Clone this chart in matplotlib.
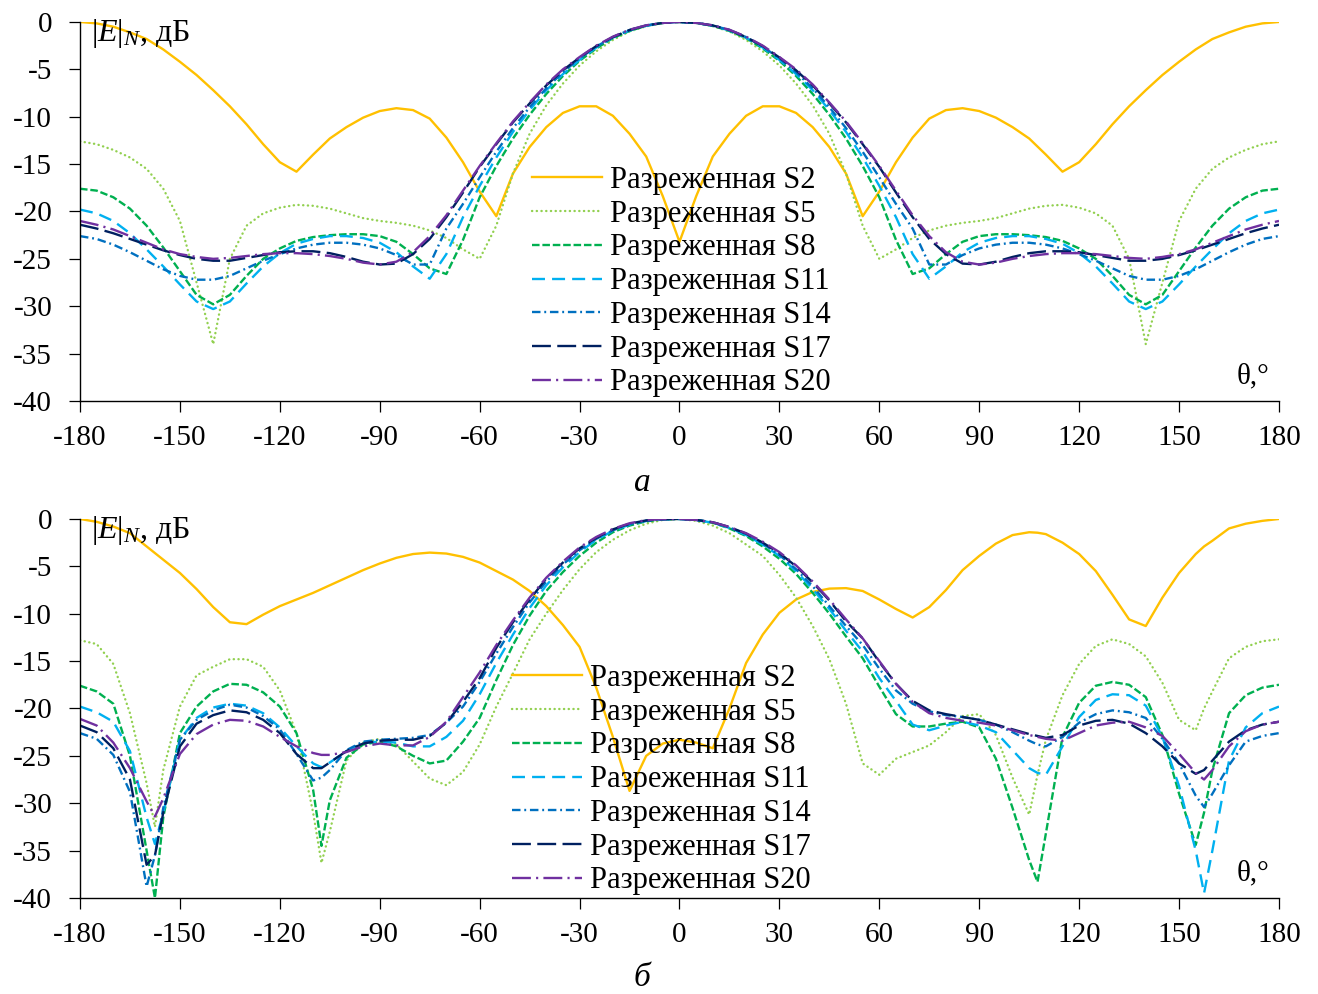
import matplotlib
matplotlib.use("Agg")
import matplotlib.pyplot as plt

# angle grids (deg)
top_theta = list(range(-180, 181, 5))
bot_theta = sorted(list(range(-180, 181, 5)) + [-157.5, -107.5, 107.5, 157.5])

labels = ["Разреженная S2", "Разреженная S5", "Разреженная S8", "Разреженная S11",
          "Разреженная S14", "Разреженная S17", "Разреженная S20"]

# ---- panel a (symmetric pattern), dB ----
top_s2 = [0, -0.15, -0.5, -1.1, -1.8, -2.9, -4.2, -5.6, -7.2, -8.9, -10.8, -12.9, -14.8,
          -15.8, -14.0, -12.3, -11.1, -10.1, -9.4, -9.1, -9.3, -10.2, -12.2, -14.8, -17.9,
          -20.5, -16.0, -13.2, -11.1, -9.6, -8.9, -8.9, -9.9, -11.8, -14.2, -18.4, -23.2,
          -18.4, -14.2, -11.8, -9.9, -8.9, -8.9, -9.6, -11.1, -13.2, -16.0, -20.5, -17.9,
          -14.8, -12.2, -10.2, -9.3, -9.1, -9.4, -10.1, -11.1, -12.3, -14.0, -15.8, -14.8,
          -12.9, -10.8, -8.9, -7.2, -5.6, -4.2, -2.9, -1.8, -1.1, -0.5, -0.15, 0]
top_s5 = [-12.6, -12.9, -13.5, -14.3, -15.5, -17.6, -21.0, -27.5, -34.0, -25.0, -21.5, -20.2,
          -19.6, -19.3, -19.4, -19.7, -20.2, -20.7, -21.0, -21.2, -21.5, -22.0, -22.8, -24.0,
          -25.0, -21.5, -16.0, -11.8, -8.8, -6.5, -4.6, -3.1, -1.9, -1.0, -0.45, -0.1, 0,
          -0.1, -0.45, -1.0, -1.9, -3.1, -4.6, -6.5, -8.8, -11.8, -16.0, -21.5, -25.0,
          -24.0, -22.8, -22.0, -21.5, -21.2, -21.0, -20.7, -20.2, -19.7, -19.4, -19.3, -19.6,
          -20.2, -21.5, -25.0, -34.0, -27.5, -21.0, -17.6, -15.5, -14.3, -13.5, -12.9, -12.6]
top_s8 = [-17.6, -17.8, -18.5, -19.7, -21.5, -23.8, -26.3, -28.8, -29.8, -28.8, -26.8, -25.0,
          -23.9, -23.1, -22.7, -22.5, -22.4, -22.4, -22.6, -23.2, -24.5, -26.0, -26.6, -23.0,
          -18.5, -15.2, -12.3, -9.8, -7.6, -5.7, -4.1, -2.8, -1.7, -0.95, -0.4, -0.1, 0,
          -0.1, -0.4, -0.95, -1.7, -2.8, -4.1, -5.7, -7.6, -9.8, -12.3, -15.2, -18.5,
          -23.0, -26.6, -26.0, -24.5, -23.2, -22.6, -22.4, -22.4, -22.5, -22.7, -23.1, -23.9,
          -25.0, -26.8, -28.8, -29.8, -28.8, -26.3, -23.8, -21.5, -19.7, -18.5, -17.8, -17.6]
top_s11 = [-19.8, -20.2, -21.0, -22.3, -24.0, -25.8, -27.7, -29.5, -30.3, -29.5, -27.6, -25.8,
           -24.4, -23.4, -22.9, -22.6, -22.6, -22.8, -23.3, -24.3, -25.8, -27.1, -24.5, -20.6,
           -17.3, -14.3, -11.6, -9.3, -7.2, -5.5, -4.0, -2.7, -1.65, -0.9, -0.4, -0.1, 0,
           -0.1, -0.4, -0.9, -1.65, -2.7, -4.0, -5.5, -7.2, -9.3, -11.6, -14.3, -17.3,
           -20.6, -24.5, -27.1, -25.8, -24.3, -23.3, -22.8, -22.6, -22.6, -22.9, -23.4, -24.4,
           -25.8, -27.6, -29.5, -30.3, -29.5, -27.7, -25.8, -24.0, -22.3, -21.0, -20.2, -19.8]
top_s14 = [-22.6, -22.9, -23.5, -24.3, -25.2, -26.1, -26.8, -27.2, -27.2, -26.8, -26.0, -25.2,
           -24.5, -23.9, -23.5, -23.3, -23.3, -23.5, -23.9, -24.6, -25.6, -25.6, -21.8, -19.2,
           -16.4, -13.7, -11.2, -9.0, -7.0, -5.3, -3.85, -2.6, -1.6, -0.85, -0.37, -0.1, 0,
           -0.1, -0.37, -0.85, -1.6, -2.6, -3.85, -5.3, -7.0, -9.0, -11.2, -13.7, -16.4,
           -19.2, -21.8, -25.6, -25.6, -24.6, -23.9, -23.5, -23.3, -23.3, -23.5, -23.9, -24.5,
           -25.2, -26.0, -26.8, -27.2, -27.2, -26.8, -26.1, -25.2, -24.3, -23.5, -22.9, -22.6]
top_s17 = [-21.4, -21.8, -22.3, -22.9, -23.5, -24.1, -24.6, -25.0, -25.2, -25.2, -24.9, -24.6,
           -24.3, -24.2, -24.2, -24.4, -24.8, -25.3, -25.6, -25.5, -24.5, -22.9, -20.6, -18.0,
           -15.3, -12.9, -10.6, -8.6, -6.7, -5.1, -3.75, -2.55, -1.6, -0.85, -0.37, -0.1, 0,
           -0.1, -0.37, -0.85, -1.6, -2.55, -3.75, -5.1, -6.7, -8.6, -10.6, -12.9, -15.3,
           -18.0, -20.6, -22.9, -24.5, -25.5, -25.6, -25.3, -24.8, -24.4, -24.2, -24.2, -24.3,
           -24.6, -24.9, -25.2, -25.2, -25.0, -24.6, -24.1, -23.5, -22.9, -22.3, -21.8, -21.4]
top_s20 = [-21.0, -21.4, -21.9, -22.6, -23.3, -24.0, -24.5, -24.8, -25.0, -24.9, -24.7, -24.5,
           -24.4, -24.4, -24.5, -24.7, -25.0, -25.4, -25.6, -25.3, -24.3, -22.6, -20.4, -17.8,
           -15.2, -12.8, -10.5, -8.5, -6.6, -5.0, -3.7, -2.5, -1.55, -0.82, -0.35, -0.1, 0,
           -0.1, -0.35, -0.82, -1.55, -2.5, -3.7, -5.0, -6.6, -8.5, -10.5, -12.8, -15.2,
           -17.8, -20.4, -22.6, -24.3, -25.3, -25.6, -25.4, -25.0, -24.7, -24.5, -24.4, -24.4,
           -24.5, -24.7, -24.9, -25.0, -24.8, -24.5, -24.0, -23.3, -22.6, -21.9, -21.4, -21.0]

# ---- panel b, dB ----
bot_s2 = [0, -0.3, -0.8, -1.5, -2.9,
          -3.6,
          -4.3, -5.7, -7.4, -9.3, -10.9, -11.1, -10.1, -9.2, -8.5, -7.8,
          -7.4,
          -7.0, -6.2, -5.4, -4.7, -4.1, -3.7, -3.55, -3.65, -4.0, -4.6,
          -5.5, -6.4, -7.6, -9.2, -11.2, -13.5, -17.8, -23.0, -28.7, -25.0,
          -23.7, -23.3, -23.6, -24.2, -20.0, -15.2, -12.2, -9.9, -8.5, -7.7,
          -7.35, -7.3, -7.6, -8.5, -9.5, -10.4, -9.3, -7.5, -5.4, -3.9,
          -2.6, -1.7, -1.4,
          -1.45,
          -1.6, -2.5, -3.7, -5.5, -8.0, -10.6, -11.3, -8.3, -5.7, -3.7,
          -2.9,
          -2.3, -1.0, -0.5, -0.2, 0]
bot_s5 = [-12.8, -13.2, -15.3, -20.5, -27.9,
          -32.5,
          -26.5, -19.8, -16.5, -15.6, -14.8, -14.8, -15.6, -18.1, -22.6, -31.0,
          -36.3,
          -33.0, -25.5, -23.6, -23.2, -23.8, -25.6, -27.4, -28.1, -26.7, -23.8,
          -19.8, -16.3, -12.7, -10.0, -7.5, -5.3, -3.5, -2.2, -1.2, -0.5,
          -0.1, 0, -0.2, -0.7, -1.5, -2.7, -3.9, -5.9, -8.3, -11.3,
          -14.8, -19.5, -25.8, -27.0, -25.3, -24.6, -23.9, -22.5, -20.8, -20.6,
          -22.8, -27.3, -31.2,
          -27.0,
          -23.3, -18.6, -15.3, -13.4, -12.7, -13.2, -14.5, -17.3, -21.2, -22.3,
          -20.0,
          -18.2, -14.7, -13.5, -12.9, -12.7]
bot_s8 = [-17.6, -18.2, -19.5, -25.0, -35.0,
          -40.0,
          -31.5, -22.6, -19.8, -18.2, -17.4, -17.5, -18.3, -19.8, -22.6, -28.6,
          -34.5,
          -29.7, -25.2, -23.8, -23.5, -24.0, -25.0, -25.8, -25.5, -23.5, -21.0,
          -17.0, -13.3, -10.2, -7.6, -5.6, -3.9, -2.5, -1.4, -0.7, -0.25,
          -0.05, 0, -0.1, -0.4, -1.0, -1.8, -2.9, -4.2, -5.8, -7.8,
          -10.0, -12.4, -14.7, -17.7, -20.6, -21.9, -21.9, -21.6, -21.4, -22.0,
          -25.3, -30.5, -36.0,
          -38.3,
          -33.2, -23.0, -19.4, -17.6, -17.2, -17.5, -18.8, -22.8, -29.0, -34.4,
          -31.0,
          -26.5, -20.5, -18.6, -17.8, -17.5]
bot_s11 = [-19.8, -20.4, -21.4, -24.5, -31.5,
           -34.3,
           -31.0, -23.3, -21.0, -19.9, -19.5, -19.7, -20.5, -22.0, -24.0, -25.8,
           -26.2,
           -25.7, -24.5, -23.6, -23.5, -23.6, -24.0, -24.0, -23.0, -21.3, -18.5,
           -15.2, -12.2, -9.4, -7.0, -5.1, -3.5, -2.2, -1.25, -0.6, -0.2,
           -0.05, 0, -0.1, -0.4, -0.95, -1.7, -2.7, -3.9, -5.5, -7.4,
           -9.5, -11.8, -14.0, -16.8, -19.2, -21.7, -22.3, -21.8, -21.4, -21.8,
           -22.5, -24.4, -26.3,
           -26.8,
           -27.0, -24.0, -20.9, -19.1, -18.5, -18.6, -19.7, -23.0, -28.2, -35.0,
           -39.5,
           -35.0, -25.5, -22.0, -20.5, -19.8]
bot_s14 = [-22.6, -23.2, -24.9, -28.8, -38.8,
           -35.5,
           -30.5, -23.3, -21.2, -20.2, -19.6, -19.9, -20.8, -22.2, -24.8, -27.6,
           -27.3,
           -26.5, -24.4, -23.5, -23.3, -23.2, -23.1, -22.8, -21.5, -19.8, -17.2,
           -14.2, -11.4, -8.8, -6.6, -4.8, -3.3, -2.1, -1.2, -0.55, -0.2,
           -0.03, 0, -0.1, -0.35, -0.9, -1.6, -2.6, -3.8, -5.3, -7.1,
           -9.2, -11.3, -13.3, -15.8, -18.1, -19.5, -20.3, -20.7, -20.9, -21.2,
           -21.7, -22.5, -23.4,
           -23.8,
           -24.0, -23.0, -21.5, -20.6, -20.2, -20.4, -21.0, -23.2, -25.8, -29.2,
           -30.4,
           -29.0, -26.0, -23.5, -22.9, -22.6]
bot_s17 = [-21.8, -22.5, -24.2, -27.5, -36.5,
           -35.5,
           -31.0, -24.0, -21.6, -20.7, -20.2, -20.4, -21.2, -22.6, -24.8, -26.3,
           -26.3,
           -25.7, -24.5, -23.7, -23.4, -23.3, -23.3, -22.9, -21.5, -19.3, -16.8,
           -13.6, -10.9, -8.5, -6.3, -4.6, -3.1, -2.0, -1.1, -0.5, -0.15,
           -0.02, 0, -0.1, -0.35, -0.85, -1.55, -2.5, -3.6, -5.0, -6.7,
           -8.6, -10.8, -12.6, -15.1, -17.4, -19.2, -20.2, -20.6, -20.9, -21.2,
           -21.7, -22.2, -22.7,
           -22.9,
           -23.1, -22.8, -21.8, -21.3, -21.2, -21.6, -22.6, -24.0, -25.8, -26.9,
           -26.5,
           -25.5, -23.5, -22.3, -21.7, -21.4]
bot_s20 = [-21.1, -21.8, -23.6, -26.3, -29.8,
           -31.4,
           -29.5, -24.8, -22.7, -21.7, -21.2, -21.3, -21.9, -23.0, -24.0, -24.7,
           -24.9,
           -24.9, -24.6, -24.0, -23.7, -23.9, -23.9, -23.0, -21.4, -18.8, -16.2,
           -13.3, -10.7, -8.3, -6.2, -4.5, -3.0, -1.9, -1.05, -0.45, -0.12,
           -0.02, 0, -0.1, -0.35, -0.85, -1.5, -2.4, -3.5, -4.9, -6.6,
           -8.5, -10.6, -12.6, -15.0, -17.4, -19.3, -20.5, -21.0, -21.3, -21.5,
           -21.8, -22.3, -22.8,
           -23.0,
           -23.2, -23.4, -22.6, -21.8, -21.5, -21.4, -22.0, -22.9, -24.8, -26.8,
           -27.5,
           -26.5, -24.0, -22.4, -21.7, -21.4]

colors = ["#FFC000", "#92D050", "#00B050", "#00B0F0", "#0070C0", "#002060", "#7030A0"]
styles = ["-", (0, (0.1, 1.9)), (0, (3.2, 1.2)), (0, (5.5, 3.0)),
          (0, (3.6, 1.6, 0.8, 1.6)), (0, (8.0, 2.7)), (0, (8.0, 2.2, 0.9, 2.2))]

plt.rcParams["font.family"] = ["Liberation Serif", "DejaVu Serif"]
plt.rcParams["mathtext.fontset"] = "custom"
plt.rcParams["mathtext.rm"] = "Liberation Serif"
plt.rcParams["mathtext.it"] = "Liberation Serif:italic"
plt.rcParams["axes.unicode_minus"] = False

FS = 21

fig = plt.figure(figsize=(13.18, 9.94), dpi=100)
ax_top = fig.add_axes([0.0607, 0.5966, 0.9097, 0.3813])
ax_bot = fig.add_axes([0.0607, 0.0966, 0.9097, 0.3813])


def draw(ax, theta, series, leg_anchor):
    for y, c, ls, lab in zip(series, colors, styles, labels):
        caps = "round" if ls == styles[1] else "butt"
        ax.plot(theta, y, color=c, linestyle=ls, linewidth=1.7, label=lab,
                dash_capstyle=caps, solid_joinstyle="round")
    ax.set_xlim(-180, 180)
    ax.set_ylim(-40, 0)
    ax.set_xticks(range(-180, 181, 30))
    ax.set_yticks(range(-40, 1, 5))
    for s in ("top", "right"):
        ax.spines[s].set_visible(False)
    for s in ("left", "bottom"):
        ax.spines[s].set_linewidth(1.0)
    ax.tick_params(direction="out", length=8, width=0.9, labelsize=FS)
    ax.tick_params(axis="y", pad=12)
    ax.tick_params(axis="x", pad=9)
    ax.text(0.009, 1.012, r"$|E|_N$, дБ", transform=ax.transAxes, fontsize=FS + 2,
            ha="left", va="top")
    ax.text(0.992, 0.03, "θ,°", transform=ax.transAxes, fontsize=FS,
            ha="right", va="bottom")
    ax.legend(loc="upper left", bbox_to_anchor=leg_anchor, bbox_transform=fig.transFigure,
              frameon=False, fontsize=FS + 1, handlelength=2.3, handletextpad=0.25,
              labelspacing=0.155, borderpad=0, borderaxespad=0)


draw(ax_top, top_theta, [top_s2, top_s5, top_s8, top_s11, top_s14, top_s17, top_s20],
     (532 / 1318, 1 - 166 / 994))
draw(ax_bot, bot_theta, [bot_s2, bot_s5, bot_s8, bot_s11, bot_s14, bot_s17, bot_s20],
     (512 / 1318, 1 - 664 / 994))

fig.text(642 / 1318, 1 - 483 / 994, "а", fontsize=FS + 3, style="italic",
         ha="center", va="center")
fig.text(642 / 1318, 1 - 978 / 994, "б", fontsize=FS + 3, style="italic",
         ha="center", va="center")

fig.savefig("out.png", dpi=100)
